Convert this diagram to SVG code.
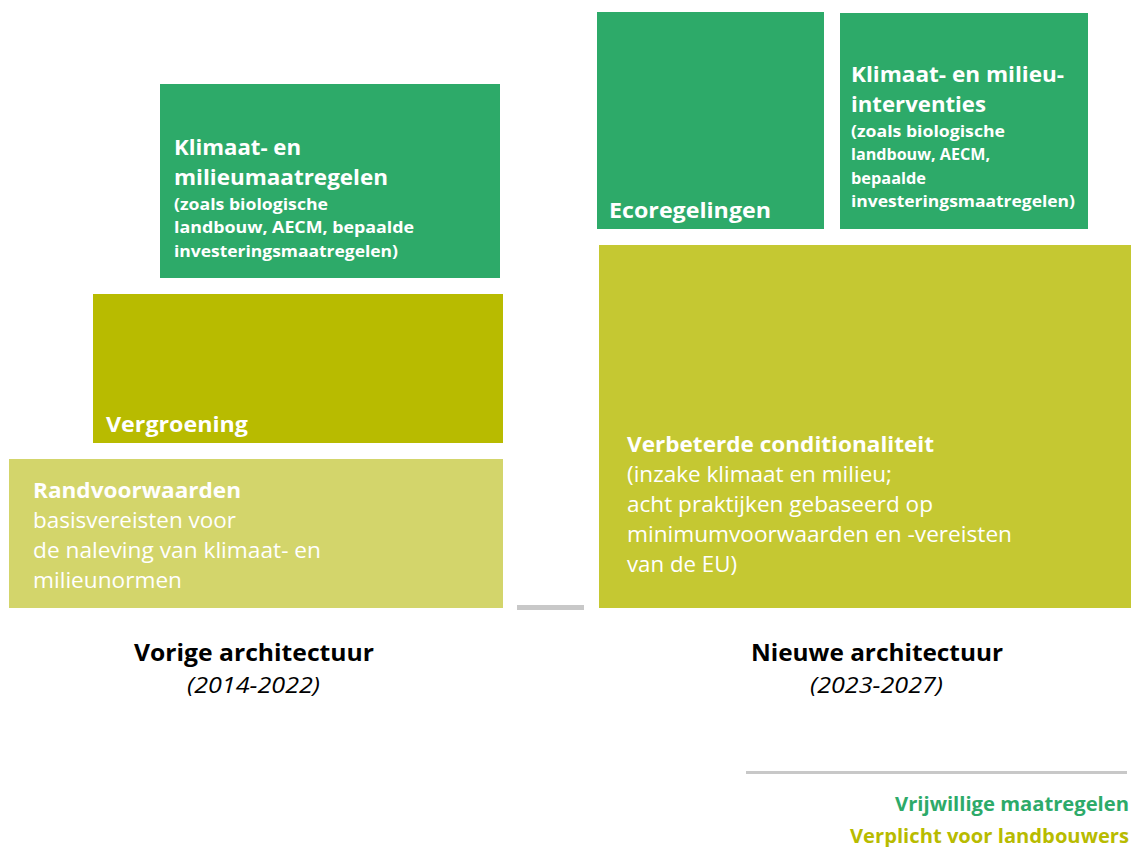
<svg xmlns="http://www.w3.org/2000/svg" width="1131" height="847" viewBox="0 0 1131 847">
  <style>
    text { font-family: "Open Sans", "Liberation Sans", sans-serif; }
    .wb { fill: #ffffff; font-weight: 700; font-size: 22px; }
    .ws { fill: #ffffff; font-weight: 700; font-size: 16px; }
    .wr { fill: #ffffff; font-weight: 400; font-size: 22px; }
    .cap { fill: #000000; font-weight: 700; font-size: 24px; }
    .yr { fill: #000000; font-style: italic; font-size: 21px; }
    .leg { font-weight: 700; font-size: 19px; text-anchor: end; }
    .green { fill: #2daa69; }
    .olive { fill: #b8bb00; }
    .pale { fill: #d3d56b; }
    .lime { fill: #c5c832; }
    .rule { fill: #c8c8c8; }
  </style>

  <!-- Previous architecture -->
  <g id="klimaat-milieumaatregelen">
    <rect class="green" x="160" y="84" width="340" height="194"/>
    <text class="wb" x="174" y="155" textLength="127" lengthAdjust="spacingAndGlyphs">Klimaat- en</text>
    <text class="wb" x="174" y="185" textLength="214" lengthAdjust="spacingAndGlyphs">milieumaatregelen</text>
    <text class="ws" x="174" y="210" textLength="154" lengthAdjust="spacingAndGlyphs">(zoals biologische</text>
    <text class="ws" x="174" y="233" textLength="240" lengthAdjust="spacingAndGlyphs">landbouw, AECM, bepaalde</text>
    <text class="ws" x="174" y="257" textLength="224" lengthAdjust="spacingAndGlyphs">investeringsmaatregelen)</text>
  </g>

  <g id="vergroening">
    <rect class="olive" x="93" y="294" width="410" height="149"/>
    <text class="wb" x="106" y="432" textLength="142" lengthAdjust="spacingAndGlyphs">Vergroening</text>
  </g>

  <g id="randvoorwaarden">
    <rect class="pale" x="9" y="459" width="494" height="149"/>
    <text class="wb" x="33" y="498" textLength="208" lengthAdjust="spacingAndGlyphs">Randvoorwaarden</text>
    <text class="wr" x="33" y="528" textLength="203" lengthAdjust="spacingAndGlyphs">basisvereisten voor</text>
    <text class="wr" x="33" y="558" textLength="288" lengthAdjust="spacingAndGlyphs">de naleving van klimaat- en</text>
    <text class="wr" x="33" y="588" textLength="149" lengthAdjust="spacingAndGlyphs">milieunormen</text>
  </g>

  <!-- New architecture -->
  <g id="ecoregelingen">
    <rect class="green" x="597" y="12" width="227" height="217"/>
    <text class="wb" x="609" y="218" textLength="162" lengthAdjust="spacingAndGlyphs">Ecoregelingen</text>
  </g>

  <g id="klimaat-milieu-interventies">
    <rect class="green" x="840" y="13" width="248" height="216"/>
    <text class="wb" x="851" y="82" textLength="213" lengthAdjust="spacingAndGlyphs">Klimaat- en milieu-</text>
    <text class="wb" x="851" y="112" textLength="135" lengthAdjust="spacingAndGlyphs">interventies</text>
    <text class="ws" x="851" y="137" textLength="154" lengthAdjust="spacingAndGlyphs">(zoals biologische</text>
    <text class="ws" x="851" y="160" textLength="139" lengthAdjust="spacingAndGlyphs">landbouw, AECM,</text>
    <text class="ws" x="851" y="184" textLength="75" lengthAdjust="spacingAndGlyphs">bepaalde</text>
    <text class="ws" x="851" y="207" textLength="224" lengthAdjust="spacingAndGlyphs">investeringsmaatregelen)</text>
  </g>

  <g id="verbeterde-conditionaliteit">
    <rect class="lime" x="599" y="245" width="532" height="363"/>
    <text class="wb" x="627" y="452" textLength="307" lengthAdjust="spacingAndGlyphs">Verbeterde conditionaliteit</text>
    <text class="wr" x="627" y="482" textLength="265" lengthAdjust="spacingAndGlyphs">(inzake klimaat en milieu;</text>
    <text class="wr" x="627" y="512" textLength="306" lengthAdjust="spacingAndGlyphs">acht praktijken gebaseerd op</text>
    <text class="wr" x="627" y="542" textLength="385" lengthAdjust="spacingAndGlyphs">minimumvoorwaarden en -vereisten</text>
    <text class="wr" x="627" y="572" textLength="110" lengthAdjust="spacingAndGlyphs">van de EU)</text>
  </g>

  <!-- Rules -->
  <g id="connectors">
    <rect class="rule" x="517" y="605" width="67" height="5"/>
    <rect class="rule" x="746" y="771" width="381" height="3"/>
  </g>

  <!-- Captions -->
  <g id="caption-old">
    <text class="cap" x="134" y="661" textLength="240" lengthAdjust="spacingAndGlyphs">Vorige architectuur</text>
    <text class="yr" x="187" y="693" textLength="133" lengthAdjust="spacingAndGlyphs">(2014-2022)</text>
  </g>
  <g id="caption-new">
    <text class="cap" x="751" y="661" textLength="252" lengthAdjust="spacingAndGlyphs">Nieuwe architectuur</text>
    <text class="yr" x="810" y="693" textLength="133" lengthAdjust="spacingAndGlyphs">(2023-2027)</text>
  </g>

  <!-- Legend -->
  <g id="legend">
    <text class="leg" x="1129" y="811" fill="#2daa69" textLength="234" lengthAdjust="spacingAndGlyphs">Vrijwillige maatregelen</text>
    <text class="leg" x="1129" y="843" fill="#b8bb00" textLength="279" lengthAdjust="spacingAndGlyphs">Verplicht voor landbouwers</text>
  </g>
</svg>
